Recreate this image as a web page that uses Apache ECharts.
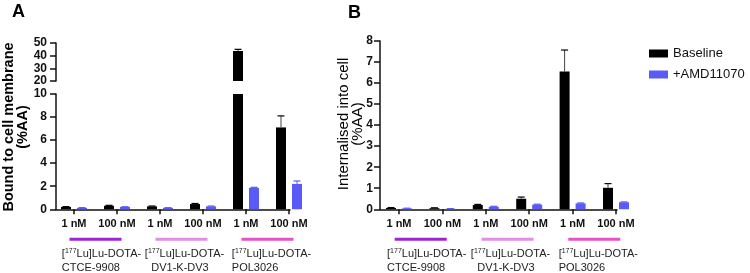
<!DOCTYPE html>
<html><head><meta charset="utf-8">
<script src="https://cdn.jsdelivr.net/npm/echarts@6/dist/echarts.min.js"></script>
<style>html,body{margin:0;padding:0;background:#fff}#c{width:750px;height:273px}</style>
</head><body><div id="c"></div>
<script>
// ---- data ----
const doses = ['1 nM', '100 nM', '1 nM', '100 nM', '1 nM', '100 nM'];
const compounds = ['CTCE-9908', 'DV1-K-DV3', 'POL3026'];
const seriesNames = ['Baseline', '+AMD11070'];
const boundBaseline = [0.2, 0.3, 0.25, 0.45, 43.7, 7.1];
const boundBaselineErr = [0.03, 0.04, 0.03, 0.05, 1.3, 1.0];
const boundAMD = [0.12, 0.2, 0.12, 0.25, 1.85, 2.2];
const boundAMDErr = [0.02, 0.02, 0.02, 0.03, 0.05, 0.25];
const intBaseline = [0.06, 0.05, 0.2, 0.5, 6.55, 1.02];
const intBaselineErr = [0.02, 0.02, 0.03, 0.08, 1.02, 0.2];
const intAMD = [0.04, 0.02, 0.12, 0.22, 0.28, 0.33];
const intAMDErr = [0.01, 0.01, 0.02, 0.02, 0.02, 0.02];

// ---- styles ----
const FONT = '"Liberation Sans", Arial, sans-serif';
const BLACK = '#000000';
const BLUE = '#5a5af6';
const groupColors = ['#9d25d2', '#de8fe6', '#e752c6'];
const groupAlign = ['left', 'center', 'left'];
const groupPadL = [12, 6, 8];   // left padding of the first text line
const groupPad2 = [12, 0, 8];   // left padding of the second text line
const groupPad2R = [0, 3, 0];   // right padding of the second text line
const AXC = '#111';
const TXT = '#222';

const chart = echarts.init(document.getElementById('c'), null, {renderer: 'canvas'});

const tickVals = doses.map((d, i) => i);

function xAxisMain(gridIndex, min, max) {
  return {
    type: 'value', gridIndex, min, max, position: 'bottom', splitLine: {show: false},
    axisLine: {show: true, onZero: false, lineStyle: {color: AXC, width: 1.5}},
    axisTick: {show: true, customValues: tickVals, length: 5, lineStyle: {color: AXC, width: 1.5}},
    axisLabel: {show: true, customValues: tickVals, margin: 9, color: AXC, fontFamily: FONT,
      fontWeight: 'bold', fontSize: 11, formatter: v => doses[Math.round(v)]}
  };
}
function groupRich(g) {
  const al = groupAlign[g];
  return {
    bar: {width: 52, height: 3, backgroundColor: groupColors[g], align: 'center', lineHeight: 16},
    a: {fontFamily: FONT, fontSize: 11, color: TXT, lineHeight: 13.5, align: al, padding: [0, 0, 0, groupPadL[g]]},
    b: {fontFamily: FONT, fontSize: 11, color: TXT, lineHeight: 13.5, align: al},
    s: {fontFamily: FONT, fontSize: 7, color: TXT, lineHeight: 13.5, align: al, verticalAlign: 'top'},
    c: {fontFamily: FONT, fontSize: 11, color: TXT, lineHeight: 13.5, align: al, padding: [0, groupPad2R[g], 0, groupPad2[g]]}
  };
}
// one label-only axis per compound group, label centred between its two dose ticks
function xAxisGroup(gridIndex, min, max, g) {
  return {
    type: 'value', gridIndex, min, max, position: 'bottom', offset: 0, splitLine: {show: false},
    axisLine: {show: false, onZero: false}, axisTick: {show: false},
    axisLabel: {show: true, customValues: [g * 2 + 0.5], margin: 22, rich: groupRich(g),
      formatter: () => '{bar| }\n{a|[}{s|177}{b|Lu]Lu-DOTA-}\n{c|' + compounds[g] + '}'}
  };
}
function yAxis(gridIndex, min, max, interval, margin) {
  return {
    type: 'value', gridIndex, min, max, interval, splitLine: {show: false},
    axisLine: {show: true, onZero: false, lineStyle: {color: AXC, width: 1.5}},
    axisTick: {show: true, length: 6, lineStyle: {color: AXC, width: 1.5}},
    axisLabel: {margin, color: AXC, fontFamily: FONT, fontWeight: 'bold', fontSize: 12}
  };
}

const axMinA = -18 / 43, axMaxA = axMinA + 234 / 43;
const axMinB = -19 / 43.4, axMaxB = axMinB + 237 / 43.4;

function barSeries(name, vals, color, xi, yi) {
  return {
    type: 'bar', name, xAxisIndex: xi, yAxisIndex: yi, barWidth: 10, barGap: '60%',
    itemStyle: {color}, data: vals.map((v, i) => [i, v]), z: 2, animation: false
  };
}
function errSeries(name, vals, errs, color, capColor, xi, yi, dx) {
  return {
    type: 'custom', name: name + ' err', xAxisIndex: xi, yAxisIndex: yi, z: 3, animation: false,
    data: vals.map((v, i) => [i, v, errs[i]]),
    renderItem: (params, api) => {
      const x = api.value(0), y = api.value(1), e = api.value(2);
      const b = api.coord([x, y]);
      const t = api.coord([x, y + e]);
      const cs = params.coordSys;
      if (t[1] < cs.y - 1 || b[1] > cs.y + cs.height + 1) return null;
      const px = b[0] + dx;
      return {
        type: 'group', children: [
          {type: 'line', shape: {x1: px, y1: b[1], x2: px, y2: t[1]}, style: {stroke: color, lineWidth: 1}},
          {type: 'line', shape: {x1: px - 3.5, y1: t[1], x2: px + 3.5, y2: t[1]}, style: {stroke: capColor, lineWidth: 1.2}}
        ]
      };
    }
  };
}

const option = {
  animation: false,
  grid: [
    {left: 56, width: 234, top: 43, height: 38},
    {left: 56, width: 234, top: 94, height: 115.5},
    {left: 380, width: 237, top: 41, height: 168.3}
  ],
  xAxis: [
    {type: 'value', gridIndex: 0, min: axMinA, max: axMaxA, show: false},   // 0
    xAxisMain(1, axMinA, axMaxA),                                            // 1
    xAxisMain(2, axMinB, axMaxB),                                            // 2
    ...compounds.map((c, g) => xAxisGroup(1, axMinA, axMaxA, g)),
    ...compounds.map((c, g) => xAxisGroup(2, axMinB, axMaxB, g))
  ],
  yAxis: [yAxis(0, 20, 50, 10, 9), yAxis(1, 0, 10, 2, 9), yAxis(2, 0, 8, 1, 7)],
  legend: {
    data: seriesNames, orient: 'vertical', left: 644, top: 42, itemWidth: 19, itemHeight: 8, itemGap: 8,
    icon: 'rect', selectedMode: false,
    textStyle: {fontFamily: FONT, fontSize: 13, color: '#111'}
  },
  series: [
    barSeries(seriesNames[0], boundBaseline, BLACK, 0, 0),
    barSeries(seriesNames[1], boundAMD, BLUE, 0, 0),
    barSeries(seriesNames[0], boundBaseline, BLACK, 1, 1),
    barSeries(seriesNames[1], boundAMD, BLUE, 1, 1),
    barSeries(seriesNames[0], intBaseline, BLACK, 2, 2),
    barSeries(seriesNames[1], intAMD, BLUE, 2, 2),
    errSeries(seriesNames[0], boundBaseline, boundBaselineErr, '#444', BLACK, 0, 0, -8),
    errSeries(seriesNames[1], boundAMD, boundAMDErr, BLUE, BLUE, 0, 0, 8),
    errSeries(seriesNames[0], boundBaseline, boundBaselineErr, '#444', BLACK, 1, 1, -8),
    errSeries(seriesNames[1], boundAMD, boundAMDErr, BLUE, BLUE, 1, 1, 8),
    errSeries(seriesNames[0], intBaseline, intBaselineErr, '#444', BLACK, 2, 2, -8),
    errSeries(seriesNames[1], intAMD, intAMDErr, BLUE, BLUE, 2, 2, 8)
  ],
  graphic: [
    {type: 'text', left: 12, top: 3, style: {text: 'A', font: 'bold 18px ' + FONT, fill: '#000'}},
    {type: 'text', left: 348, top: 4, style: {text: 'B', font: 'bold 18px ' + FONT, fill: '#000'}},
    {type: 'text', x: 16, y: 127, rotation: Math.PI / 2,
      style: {text: 'Bound to cell membrane\n(%AA)', font: 'bold 14.5px ' + FONT, fill: '#000',
        align: 'center', verticalAlign: 'middle', lineHeight: 14}},
    {type: 'text', x: 351, y: 124, rotation: Math.PI / 2,
      style: {text: 'Internalised into cell\n(%AA)', font: '15px ' + FONT, fill: '#000',
        align: 'center', verticalAlign: 'middle', lineHeight: 14}}
  ]
};
chart.setOption(option);
</script>
</body></html>
